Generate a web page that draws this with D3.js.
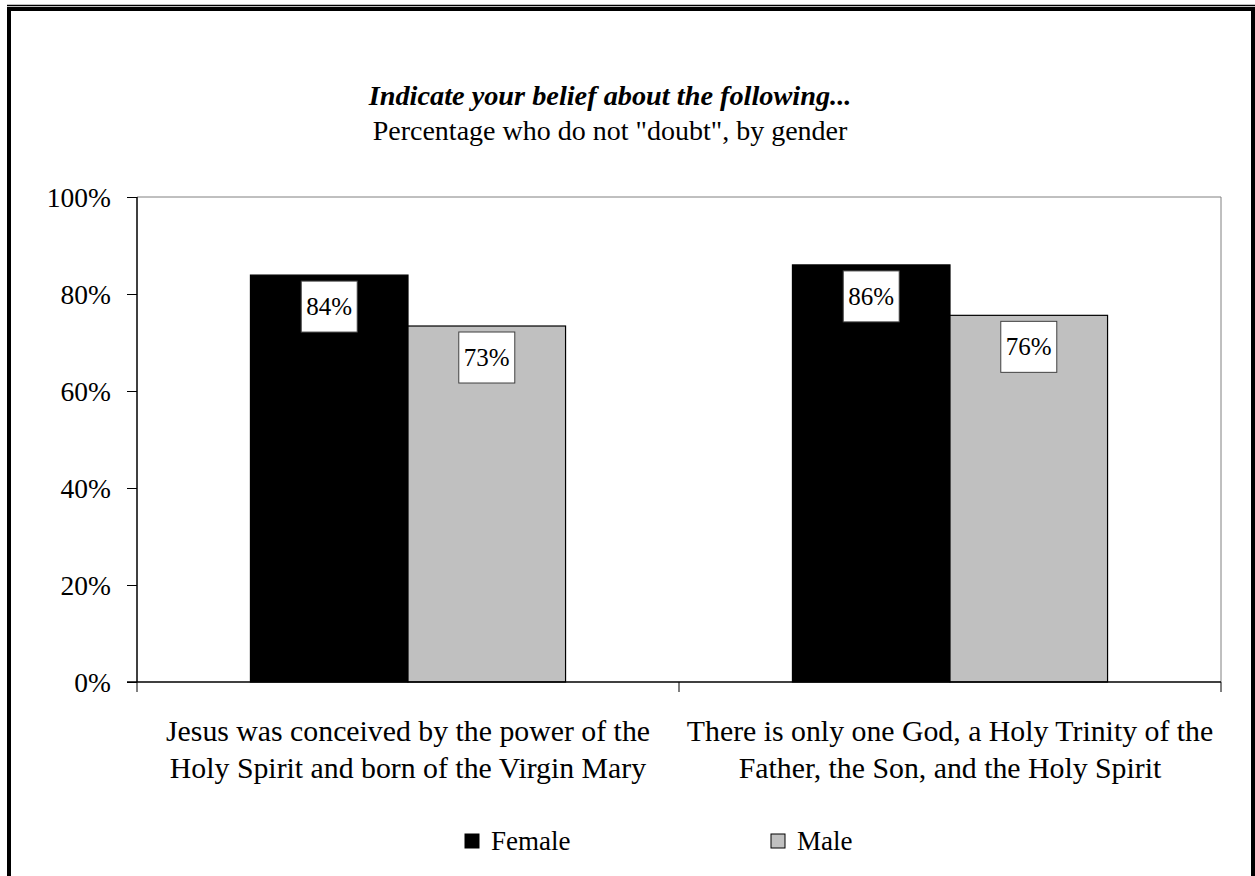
<!DOCTYPE html>
<html>
<head>
<meta charset="utf-8">
<script src="https://cdn.jsdelivr.net/npm/d3@7"></script>
<style>
  body { margin: 0; background: #fff; }
  svg text { font-family: "Liberation Serif", "Times New Roman", serif; fill: #000; }
</style>
</head>
<body>
<div id="chart"></div>
<script>
// chart data
var categories = [
  ["Jesus was conceived by the power of the", "Holy Spirit and born of the Virgin Mary"],
  ["There is only one God, a Holy Trinity of the", "Father, the Son, and the Holy Spirit"]
];
var seriesNames = ["Female", "Male"];
var femaleValues = [0.839, 0.86];
var maleValues = [0.734, 0.756];
var yTicks = [0, 0.2, 0.4, 0.6, 0.8, 1.0];
var colors = ["#000000", "#c0c0c0"];

var W = 1255, H = 876;
var margin = {top: 197, right: 34, bottom: 194, left: 137},
    width = W - margin.left - margin.right,
    height = H - margin.top - margin.bottom;

var svg = d3.select("#chart")
  .append("svg")
    .attr("width", W)
    .attr("height", H);

// outer frame
svg.append("line")
  .attr("x1", 7).attr("x2", W).attr("y1", 5.5).attr("y2", 5.5)
  .attr("stroke", "#000").attr("stroke-width", 1.5);
svg.append("path")
  .attr("d", "M9," + (H + 5) + " L9,9 L1253,9 L1253," + (H + 5))
  .attr("fill", "none").attr("stroke", "#000").attr("stroke-width", 4);

// titles
svg.append("text")
  .attr("x", 610).attr("y", 105)
  .attr("text-anchor", "middle")
  .style("font-size", "28.3px").style("font-weight", "bold").style("font-style", "italic")
  .text("Indicate your belief about the following...");
svg.append("text")
  .attr("x", 610).attr("y", 140)
  .attr("text-anchor", "middle")
  .style("font-size", "28px")
  .text("Percentage who do not \"doubt\", by gender");

var g = svg.append("g")
  .attr("transform", "translate(" + margin.left + "," + margin.top + ")");

var x0 = d3.scaleBand()
  .domain(d3.range(categories.length))
  .range([0, width]);
var x1 = d3.scaleBand()
  .domain(seriesNames)
  .range([0, x0.bandwidth()])
  .paddingOuter(0.72);
var y = d3.scaleLinear()
  .domain([0, 1])
  .range([height, 0]);

// plot area frame (top / right)
g.append("path")
  .attr("d", "M0,0 H" + width + " V" + height)
  .attr("fill", "none").attr("stroke", "#808080").attr("stroke-width", 1);

// bars
var rows = categories.map(function(c, i) {
  return [
    {key: "Female", value: femaleValues[i]},
    {key: "Male", value: maleValues[i]}
  ];
});

var groups = g.selectAll(".grp")
  .data(rows)
  .enter().append("g")
    .attr("transform", function(d, i) { return "translate(" + x0(i) + ",0)"; });

groups.selectAll("rect.bar")
  .data(function(d) { return d; })
  .enter().append("rect")
    .attr("class", "bar")
    .attr("x", function(d) { return x1(d.key); })
    .attr("width", x1.bandwidth())
    .attr("y", function(d) { return y(d.value); })
    .attr("height", function(d) { return height - y(d.value); })
    .attr("fill", function(d, i) { return colors[i]; })
    .attr("stroke", "#000")
    .attr("stroke-width", 1.2);

// value labels
var fmt = d3.format(".0%");
var lab = groups.selectAll("g.lab")
  .data(function(d) { return d; })
  .enter().append("g")
    .attr("class", "lab")
    .attr("transform", function(d) {
      return "translate(" + (x1(d.key) + x1.bandwidth() / 2) + "," + (y(d.value) + 6) + ")";
    });
lab.append("rect")
  .attr("x", -28).attr("y", 0)
  .attr("width", 56).attr("height", 51)
  .attr("fill", "#fff").attr("stroke", "#404040").attr("stroke-width", 1);
lab.append("text")
  .attr("x", 0).attr("y", 34)
  .attr("text-anchor", "middle")
  .style("font-size", "25px")
  .text(function(d) { return fmt(d.value); });

// y axis
var yAxis = g.append("g")
  .call(d3.axisLeft(y).tickValues(yTicks).tickFormat(d3.format(".0%")).tickSize(10).tickPadding(16));
yAxis.selectAll("text").style("font-size", "27.5px").attr("dy", "0.35em");
yAxis.select(".domain").remove();
yAxis.append("line").attr("x1", 0).attr("x2", 0).attr("y1", 0).attr("y2", height)
  .attr("stroke", "#000").attr("stroke-width", 1.5);

// x axis
var xAxisG = g.append("g").attr("transform", "translate(0," + height + ")");
xAxisG.append("line").attr("x1", -10).attr("x2", width).attr("y1", 0).attr("y2", 0)
  .attr("stroke", "#000").attr("stroke-width", 1.5);
xAxisG.selectAll("line.tk")
  .data([0, x0(1), width])
  .enter().append("line")
    .attr("class", "tk")
    .attr("x1", function(d) { return d; }).attr("x2", function(d) { return d; })
    .attr("y1", 0).attr("y2", 10)
    .attr("stroke", "#000").attr("stroke-width", 1);

xAxisG.selectAll("text.cat")
  .data(categories)
  .enter().append("text")
    .attr("class", "cat")
    .attr("text-anchor", "middle")
    .style("font-size", "29.8px")
    .attr("transform", function(d, i) { return "translate(" + (x0(i) + x0.bandwidth() / 2) + ",0)"; })
  .selectAll("tspan")
    .data(function(d) { return d; })
    .enter().append("tspan")
      .attr("x", 0)
      .attr("y", function(d, j) { return 59 + j * 37; })
      .text(function(d) { return d; });

// legend
var legend = svg.append("g").attr("transform", "translate(0,834)");
var legX = [465, 771];
seriesNames.forEach(function(name, i) {
  legend.append("rect")
    .attr("x", legX[i]).attr("y", 0)
    .attr("width", 14).attr("height", 14)
    .attr("fill", colors[i]).attr("stroke", "#000").attr("stroke-width", 1);
  legend.append("text")
    .attr("x", legX[i] + 26).attr("y", 16)
    .style("font-size", "27px")
    .text(name);
});
</script>
</body>
</html>
